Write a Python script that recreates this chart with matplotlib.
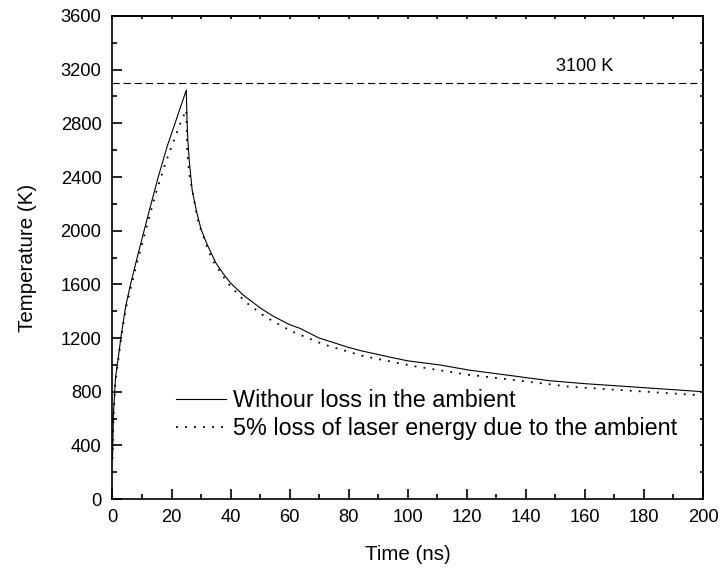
import matplotlib
matplotlib.use('Agg')
import matplotlib.pyplot as plt
from matplotlib.ticker import MultipleLocator, NullFormatter

plt.rcParams['font.family'] = ['Liberation Sans', 'DejaVu Sans']

# solid: without loss in the ambient
t_solid = [0, 0.3, 1, 2, 3, 4.5, 6, 8.7, 12.7, 15.5, 18.4, 25,
           25.2, 25.5, 26, 27, 28.5, 30, 32, 35, 37.5, 40, 44.3, 50, 54.5,
           60, 63.5, 70, 80, 84, 95, 100, 111, 121, 125, 148, 160, 180, 200]
T_solid = [300, 620, 900, 1060, 1230, 1440, 1590, 1830, 2170, 2400, 2620, 3048,
           2850, 2680, 2520, 2300, 2140, 2010, 1900, 1760, 1680, 1610, 1520, 1425, 1362,
           1300, 1272, 1200, 1130, 1106, 1053, 1030, 999, 960, 949, 882, 860, 830, 800]

# dotted: 5% loss of laser energy
t_dot = [0, 0.3, 1, 2, 3, 4.5, 8.4, 14.4, 18.1, 23.1, 25,
         25.35, 26, 27.2, 29.1, 30.2, 32.8, 34.4, 38.9, 44.9, 51.7, 58.1,
         61.8, 71.4, 84.9, 101.9, 121.1, 124.5, 155, 198, 200]
T_dot = [300, 590, 880, 1045, 1210, 1420, 1770, 2260, 2514, 2808, 2900,
         2577, 2420, 2278, 2055, 1993, 1836, 1762, 1613, 1471, 1359, 1280,
         1240, 1153, 1066, 991, 924, 917, 837, 775, 772]

T_limit = 3100

fig = plt.figure(figsize=(7.23, 5.71), dpi=100)
ax = fig.add_axes([0.1556, 0.126, 0.8167, 0.846])

ax.plot(t_solid, T_solid, color='k', lw=0.8, label='Withour loss in the ambient')
ax.plot(t_dot, T_dot, color='k', lw=1.3, ls=(0, (1, 4)),
        label='5% loss of laser energy due to the ambient')
ax.axhline(T_limit, color='k', lw=0.8, dashes=(6.5, 3.5))
ax.text(160, T_limit + 60, '3100 K', ha='center', va='bottom', fontsize=13)

ax.set_xlim(0, 200)
ax.set_ylim(0, 3600)
ax.xaxis.set_major_locator(MultipleLocator(20))
ax.xaxis.set_minor_locator(MultipleLocator(10))
ax.yaxis.set_major_locator(MultipleLocator(400))
ax.yaxis.set_minor_locator(MultipleLocator(200))
ax.tick_params(which='both', direction='in', width=1.2, labelsize=13.2)
ax.tick_params(which='major', length=7, pad=7)
ax.tick_params(axis='y', which='major', pad=8)
ax.tick_params(which='minor', length=3.5)
for s in ax.spines.values():
    s.set_linewidth(1.2)

# short ticks on the top and right frame
top = ax.secondary_xaxis('top')
top.xaxis.set_major_locator(MultipleLocator(10))
top.xaxis.set_major_formatter(NullFormatter())
top.tick_params(direction='in', length=2.5, width=1.2)
right = ax.secondary_yaxis('right')
right.yaxis.set_major_locator(MultipleLocator(200))
right.yaxis.set_major_formatter(NullFormatter())
right.tick_params(direction='in', length=2.5, width=1.2)
for sec in (top, right):
    for s in sec.spines.values():
        s.set_linewidth(1.2)

ax.set_xlabel('Time (ns)', fontsize=14.8, labelpad=14)
ax.set_ylabel('Temperature (K)', fontsize=14.8, labelpad=17)

ax.legend(loc='upper left', bbox_to_anchor=(176 / 723, 1 - 389 / 571),
          bbox_transform=fig.transFigure, frameon=False, fontsize=16.8,
          handlelength=2.15, handletextpad=0.3, labelspacing=0.2,
          borderpad=0, borderaxespad=0)

plt.savefig('out.png', dpi=100)
